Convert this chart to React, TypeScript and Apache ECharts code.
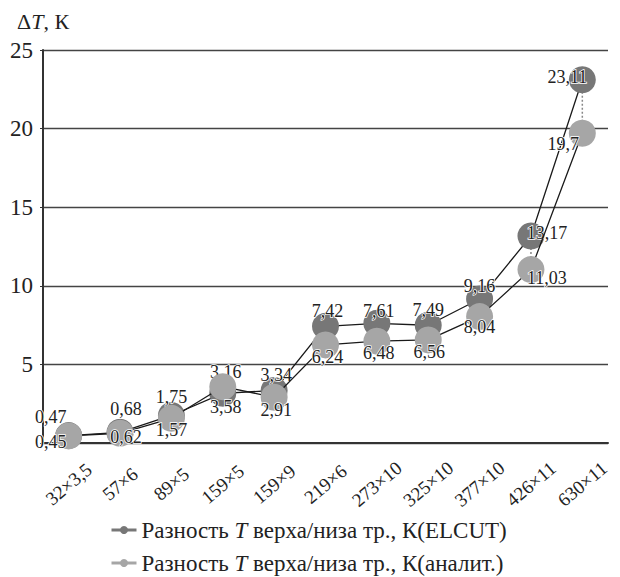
import React, { useEffect, useRef } from "react";
import * as echarts from "echarts";

const categories = ["32×3,5", "57×6", "89×5", "159×5", "159×9", "219×6", "273×10", "325×10", "377×10", "426×11", "630×11"];
const elcut = [0.47, 0.68, 1.75, 3.16, 3.34, 7.42, 7.61, 7.49, 9.16, 13.17, 23.11];
const analit = [0.45, 0.62, 1.57, 3.58, 2.91, 6.24, 6.48, 6.56, 8.04, 11.03, 19.7];
const yTicks = [0, 5, 10, 15, 20, 25];
const seriesNames = ["Разность T верха/низа тр., К(ELCUT)", "Разность T верха/низа тр., К(аналит.)"];

// label offsets (px) relative to marker centre
const elcutOffsets = [[-18, -19], [6, -23], [0, -18], [3, -21], [2, -15], [2, -15], [2, -12], [0, -15], [0, -13], [16, -3], [-15, -3]];
const analitOffsets = [[-18, 6], [6, 4], [0, 12], [3, 20], [2, 13], [2, 12], [2, 12], [1, 12], [0, 10], [16, 8], [-19, 11]];

const FONT = '"Liberation Serif", "Times New Roman", Tinos, "DejaVu Serif", serif';

const fmt = (v: number) => String(v).replace(".", ",");

export default function App() {
  const ref = useRef<HTMLDivElement>(null);
  useEffect(() => {
    if (!ref.current) return;
    const chart = echarts.init(ref.current, null, { renderer: "svg" });
    const labelBase = {
      show: true,
      position: "inside",
      color: "#222",
      fontFamily: FONT,
      fontSize: 18,
      textBorderColor: "#fff",
      textBorderWidth: 1.5,
      formatter: (p: any) => fmt(p.value),
    };
    const mkData = (vals: number[], offs: number[][]) =>
      vals.map((v, i) => ({ value: v, label: { ...labelBase, offset: offs[i] } }));

    const legendText = {
      fontFamily: FONT,
      fontSize: 23,
      lineHeight: 24,
      color: "#222",
      rich: { i: { fontFamily: FONT, fontSize: 23, lineHeight: 24, fontStyle: "italic", color: "#222" } },
    };
    const mkLegend = (idx: number, top: number, color: string) => ({
      left: 110,
      top,
      padding: 0,
      itemWidth: 25,
      itemHeight: 10,
      itemGap: 10,
      textStyle: legendText,
      formatter: (name: string) => name.replace(" T ", " {i|T} "),
      data: [{ name: seriesNames[idx], itemStyle: { color }, lineStyle: { color, width: 3 } }],
    });

    chart.setOption({
      animation: false,
      backgroundColor: "#fff",
      textStyle: { fontFamily: FONT },
      grid: { left: 43, right: 12, top: 50, bottom: 134, containLabel: false },
      graphic: [
        {
          type: "text",
          left: 17,
          top: 10,
          style: {
            text: "{a|Δ}{i|T}{a|, К}",
            rich: {
              a: { fontFamily: FONT, fontSize: 22, fill: "#222" },
              i: { fontFamily: FONT, fontSize: 22, fontStyle: "italic", fill: "#222" },
            },
          },
        },
      ],
      legend: [mkLegend(0, 518, "#777"), mkLegend(1, 551, "#a6a6a6")],
      xAxis: {
        type: "category",
        data: categories,
        boundaryGap: true,
        axisTick: { show: false },
        axisLine: { lineStyle: { color: "#333", width: 2 } },
        axisLabel: {
          interval: 0,
          rotate: 40,
          fontSize: 19,
          color: "#222",
          fontFamily: FONT,
          margin: 41,
          align: "center",
          verticalAlign: "middle",
        },
      },
      yAxis: {
        type: "value",
        min: yTicks[0],
        max: yTicks[yTicks.length - 1],
        interval: 5,
        axisLine: { show: true, lineStyle: { color: "#333", width: 2 } },
        axisTick: { show: true, length: 3, lineStyle: { color: "#333" } },
        splitLine: { lineStyle: { color: "#444", width: 1.3 } },
        axisLabel: {
          fontSize: 23,
          color: "#222",
          fontFamily: FONT,
          margin: 10,
          formatter: (v: number) => (v === 0 ? "" : String(v)),
        },
      },
      series: [
        {
          type: "custom",
          name: "hl",
          z: 1,
          silent: true,
          renderItem: (params: any, api: any) => {
            const p1 = api.coord([api.value(0), api.value(1)]);
            const p2 = api.coord([api.value(0), api.value(2)]);
            return {
              type: "line",
              shape: { x1: p1[0], y1: p1[1], x2: p2[0], y2: p2[1] },
              style: { stroke: "#888", lineWidth: 1.5, lineDash: [2, 2] },
            };
          },
          data: categories.map((c, i) => [i, elcut[i], analit[i]]),
        },
        {
          type: "line",
          name: seriesNames[0],
          z: 2,
          symbol: "circle",
          symbolSize: 27,
          itemStyle: { color: "#777" },
          lineStyle: { color: "#1a1a1a", width: 1.3 },
          data: mkData(elcut, elcutOffsets),
        },
        {
          type: "line",
          name: seriesNames[1],
          z: 3,
          symbol: "circle",
          symbolSize: 27,
          itemStyle: { color: "#a6a6a6" },
          lineStyle: { color: "#1a1a1a", width: 1.3 },
          data: mkData(analit, analitOffsets),
        },
      ],
    });
    return () => chart.dispose();
  }, []);
  return <div ref={ref} style={{ width: 620, height: 577, position: "absolute", left: 0, top: 0 }} />;
}
